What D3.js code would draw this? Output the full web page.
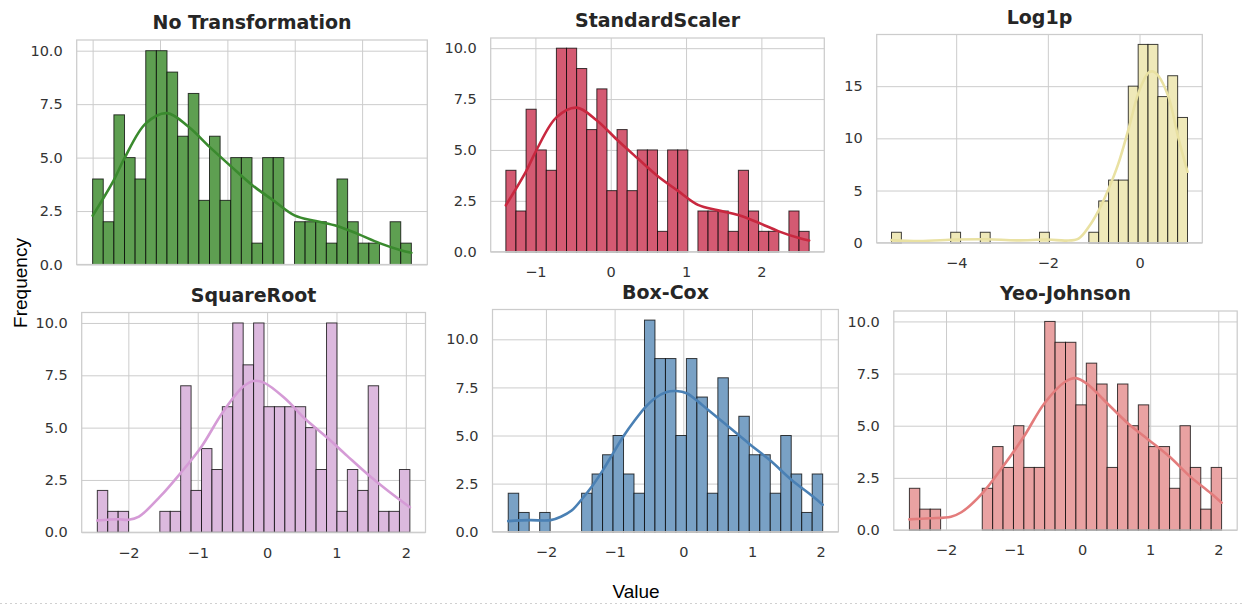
<!DOCTYPE html>
<html>
<head>
<meta charset="utf-8">
<script src="https://cdn.jsdelivr.net/npm/d3@7"></script>
<style>
    body { margin: 0; background: #fff; }
    svg { display: block; }
</style>
</head>
<body>
<svg id="chart" width="1243" height="605"></svg>
<script>
    'use strict';

    var titles = ['No Transformation', 'StandardScaler', 'Log1p', 'SquareRoot', 'Box-Cox', 'Yeo-Johnson'];

    // first and last bin edge of each 30-bin histogram
    var binEdges = [
        [0, 4.731],
        [-1.392, 2.634],
        [-5.411, 1.047],
        [-2.447, 2.058],
        [-2.549, 2.029],
        [-2.538, 2.049]
    ];

    var rawCounts = [4, 2, 7, 5, 4, 10, 10, 9, 6, 8, 3, 6, 3, 5, 5, 1, 5, 5, 0, 2, 2, 2, 1, 4, 2, 1, 1, 0, 2, 1],
        standardCounts = [4, 2, 7, 5, 4, 10, 10, 9, 6, 8, 3, 6, 3, 5, 5, 1, 5, 5, 0, 2, 2, 2, 1, 4, 2, 1, 1, 0, 2, 1],
        log1pCounts = [1, 0, 0, 0, 0, 0, 1, 0, 0, 1, 0, 0, 0, 0, 0, 1, 0, 0, 0, 0, 1, 4, 6, 6, 15, 19, 19, 14, 16, 12],
        sqrtCounts = [2, 1, 1, 0, 0, 0, 1, 1, 7, 2, 4, 3, 6, 10, 8, 10, 6, 6, 6, 6, 5, 3, 10, 1, 3, 2, 7, 1, 1, 3],
        boxCoxCounts = [2, 1, 0, 1, 0, 0, 0, 2, 3, 4, 5, 3, 2, 11, 9, 9, 5, 9, 7, 2, 8, 5, 6, 4, 4, 2, 5, 3, 1, 3],
        yeoCounts = [2, 1, 1, 0, 0, 0, 0, 2, 4, 3, 5, 3, 3, 10, 9, 9, 6, 8, 7, 3, 7, 5, 6, 4, 4, 2, 5, 3, 1, 3];

    // kde curves
    var rawKdeX = [0, 0.315, 0.473, 0.789, 1.104, 1.419, 1.735, 2.050, 2.366, 2.681, 2.996, 3.312, 3.627, 3.943, 4.258, 4.573, 4.731],
        rawKdeY = [2.28, 3.95, 4.97, 6.6, 7.08, 6.45, 5.5, 4.6, 3.72, 3.0, 2.3, 2.03, 1.8, 1.42, 1.0, 0.67, 0.55],
        standardKdeX = [-1.392, -1.124, -0.989, -0.721, -0.453, -0.184, 0.084, 0.353, 0.621, 0.889, 1.158, 1.426, 1.695, 1.963, 2.231, 2.5, 2.634],
        standardKdeY = [2.28, 3.95, 4.97, 6.6, 7.08, 6.45, 5.5, 4.6, 3.72, 3.0, 2.3, 2.03, 1.8, 1.42, 1.0, 0.67, 0.55],
        log1pKdeX = [-5.411, -4.8, -4.0, -3.33, -2.68, -2.0, -1.6, -1.33, -1.11, -0.89, -0.68, -0.46, -0.22, -0.02, 0.2, 0.3, 0.41, 0.63, 0.85, 1.047],
        log1pKdeY = [0.25, 0.15, 0.3, 0.33, 0.22, 0.3, 0.2, 0.4, 1.5, 3.1, 5.1, 7.6, 11.2, 14.4, 16.3, 16.4, 16.0, 14.0, 10.0, 6.8],
        sqrtKdeX = [-2.447, -2.149, -1.996, -1.847, -1.544, -1.247, -0.944, -0.646, -0.344, -0.195, -0.046, 0.256, 0.554, 0.857, 1.154, 1.457, 1.755, 2.058],
        sqrtKdeY = [0.56, 0.62, 0.6, 0.75, 1.7, 2.83, 4.1, 5.7, 6.96, 7.23, 7.15, 6.4, 5.4, 4.55, 3.65, 2.75, 1.95, 1.2],
        boxCoxKdeX = [-2.549, -2.238, -1.932, -1.782, -1.626, -1.475, -1.320, -1.170, -1.019, -0.864, -0.714, -0.558, -0.408, -0.252, -0.102, 0.049, 0.204, 0.354, 0.660, 0.966, 1.267, 1.573, 1.879, 2.029],
        boxCoxKdeY = [0.55, 0.6, 0.6, 0.78, 1.1, 1.7, 2.4, 3.2, 4.1, 5.0, 5.75, 6.45, 6.95, 7.25, 7.31, 7.2, 6.8, 6.35, 5.45, 4.55, 3.7, 2.7, 1.85, 1.4],
        yeoKdeX = [-2.538, -2.235, -1.927, -1.775, -1.467, -1.164, -0.856, -0.553, -0.244, -0.093, 0.059, 0.367, 0.670, 0.978, 1.281, 1.589, 1.892, 2.049],
        yeoKdeY = [0.51, 0.56, 0.64, 0.85, 1.76, 3.04, 4.48, 6.08, 7.12, 7.28, 7.04, 6.08, 5.12, 4.32, 3.52, 2.56, 1.76, 1.31];

    var xTicks = [
        [0, 1, 2, 3, 4],
        [-1, 0, 1, 2],
        [-4, -2, 0],
        [-2, -1, 0, 1, 2],
        [-2, -1, 0, 1, 2],
        [-2, -1, 0, 1, 2]
    ];

    var yTicks = [
        [0, 2.5, 5, 7.5, 10],
        [0, 2.5, 5, 7.5, 10],
        [0, 5, 10, 15],
        [0, 2.5, 5, 7.5, 10],
        [0, 2.5, 5, 7.5, 10],
        [0, 2.5, 5, 7.5, 10]
    ];

    var counts = [rawCounts, standardCounts, log1pCounts, sqrtCounts, boxCoxCounts, yeoCounts],
        kdeX = [rawKdeX, standardKdeX, log1pKdeX, sqrtKdeX, boxCoxKdeX, yeoKdeX],
        kdeY = [rawKdeY, standardKdeY, log1pKdeY, sqrtKdeY, boxCoxKdeY, yeoKdeY];

    // layout and styles of the six panels
    var panels = [
        { box: [76.7, 40, 427.3, 264.5], fill: '#5e9f51', line: '#3a8a2e', xLabels: false, yFormat: '.1f' },
        { box: [490.7, 38, 824.3, 251.7], fill: '#d45a72', line: '#c8283f', xLabels: true, yFormat: '.1f' },
        { box: [876.7, 34.5, 1202.3, 242.7], fill: '#efe9b9', line: '#e9e1a2', xLabels: true, yFormat: 'd' },
        { box: [81.7, 312.5, 425.5, 532.3], fill: '#dcb9de', line: '#d59bd6', xLabels: true, yFormat: '.1f' },
        { box: [492.5, 309.5, 838.4, 531.7], fill: '#79a1c5', line: '#4a80b4', xLabels: true, yFormat: '.1f' },
        { box: [893.8, 311, 1237.2, 530], fill: '#e9a2a2', line: '#e37c7c', xLabels: true, yFormat: '.1f' }
    ];

    var svg = d3.select('#chart'),
        gridColor = '#cccccc',
        textColor = '#262626',
        tickFont = 'DejaVu Sans, sans-serif',
        minus = function (s) { return s.replace('-', '\u2212'); };

    svg.append('rect')
        .attr('width', 1243)
        .attr('height', 605)
        .attr('fill', '#fff');

    var drawPanel = function (p, i) {
        var l = p.box[0], t = p.box[1], r = p.box[2], b = p.box[3],
            lo = binEdges[i][0],
            hi = binEdges[i][1],
            span = hi - lo,
            data = counts[i],
            binW = span / data.length,
            x = d3.scaleLinear().domain([lo - 0.05 * span, hi + 0.05 * span]).range([l, r]),
            y = d3.scaleLinear().domain([0, d3.max(data) * 1.05]).range([b, t]),
            g = svg.append('g').attr('class', 'panel'),
            line;

        g.append('g')
            .attr('transform', 'translate(0,' + b + ')')
            .call(d3.axisBottom(x)
                .tickValues(xTicks[i])
                .tickSize(-(b - t))
                .tickPadding(15)
                .tickFormat(function (d) { return p.xLabels ? minus(d3.format('d')(d)) : ''; }));

        g.append('g')
            .attr('transform', 'translate(' + l + ',0)')
            .call(d3.axisLeft(y)
                .tickValues(yTicks[i])
                .tickSize(-(r - l))
                .tickPadding(14)
                .tickFormat(function (d) { return d3.format(p.yFormat)(d); }));

        g.selectAll('.domain').remove();
        g.selectAll('.tick line')
            .attr('stroke', gridColor)
            .attr('stroke-width', 1);
        g.selectAll('.tick text')
            .attr('fill', '#333')
            .style('font-family', tickFont)
            .style('font-size', '14.5px');

        g.selectAll('.bar')
            .data(data.map(function (c, k) { return { c: c, x0: lo + k * binW, x1: lo + (k + 1) * binW }; })
                .filter(function (d) { return d.c > 0; }))
            .enter()
            .append('rect')
            .attr('class', 'bar')
            .attr('x', function (d) { return x(d.x0); })
            .attr('width', function (d) { return x(d.x1) - x(d.x0); })
            .attr('y', function (d) { return y(d.c); })
            .attr('height', function (d) { return y(0) - y(d.c); })
            .attr('fill', p.fill)
            .attr('stroke', '#000')
            .attr('stroke-opacity', 0.75)
            .attr('stroke-width', 1);

        line = d3.line()
            .x(function (d) { return x(d[0]); })
            .y(function (d) { return y(d[1]); })
            .curve(d3.curveCatmullRom.alpha(0.5));

        g.append('path')
            .datum(d3.zip(kdeX[i], kdeY[i]))
            .attr('d', line)
            .attr('fill', 'none')
            .attr('stroke', p.line)
            .attr('stroke-width', 2.6)
            .attr('stroke-linecap', 'round');

        g.append('rect')
            .attr('x', l)
            .attr('y', t)
            .attr('width', r - l)
            .attr('height', b - t)
            .attr('fill', 'none')
            .attr('stroke', gridColor)
            .attr('stroke-width', 1.25);

        g.append('text')
            .attr('x', (l + r) / 2)
            .attr('y', t - 11)
            .attr('text-anchor', 'middle')
            .attr('fill', textColor)
            .style('font-family', tickFont)
            .style('font-weight', 'bold')
            .style('font-size', '19px')
            .text(titles[i]);
    };

    panels.forEach(drawPanel);

    svg.append('text')
        .attr('x', 636)
        .attr('y', 598)
        .attr('text-anchor', 'middle')
        .attr('fill', '#000')
        .style('font-family', 'Liberation Sans, Arial, sans-serif')
        .style('font-size', '19px')
        .text('Value');

    svg.append('text')
        .attr('transform', 'translate(27,283) rotate(-90)')
        .attr('text-anchor', 'middle')
        .attr('fill', '#000')
        .style('font-family', 'Liberation Sans, Arial, sans-serif')
        .style('font-size', '19px')
        .text('Frequency');

    svg.append('line')
        .attr('x1', 0)
        .attr('x2', 1243)
        .attr('y1', 603.5)
        .attr('y2', 603.5)
        .attr('stroke', '#d0d0d0')
        .attr('stroke-dasharray', '2,3');
</script>
</body>
</html>
